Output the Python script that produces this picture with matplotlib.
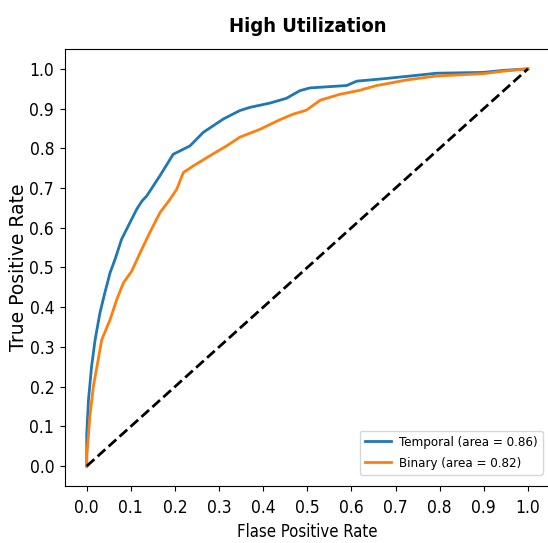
import matplotlib
matplotlib.use("Agg")
import matplotlib.pyplot as plt

# ROC points
temporal_fpr = [0.0, 0.0, 0.004, 0.011, 0.019, 0.030, 0.041, 0.053, 0.064, 0.079,
                0.098, 0.113, 0.125, 0.136, 0.166, 0.196, 0.234, 0.264, 0.310, 0.347,
                0.370, 0.416, 0.453, 0.483, 0.506, 0.589, 0.612, 0.672, 0.725, 0.793,
                0.899, 0.943, 1.0]
temporal_tpr = [0.0, 0.080, 0.167, 0.251, 0.318, 0.386, 0.436, 0.487, 0.520, 0.571,
                0.613, 0.646, 0.667, 0.680, 0.731, 0.785, 0.806, 0.840, 0.874, 0.895,
                0.903, 0.914, 0.926, 0.945, 0.952, 0.958, 0.969, 0.975, 0.981, 0.989,
                0.991, 0.996, 1.0]

binary_fpr = [0.0, 0.0, 0.007, 0.015, 0.026, 0.034, 0.053, 0.068, 0.083, 0.102,
              0.121, 0.143, 0.166, 0.189, 0.204, 0.219, 0.242, 0.279, 0.317, 0.347,
              0.393, 0.438, 0.468, 0.498, 0.529, 0.574, 0.619, 0.657, 0.687, 0.725,
              0.793, 0.899, 0.943, 1.0]
binary_tpr = [0.0, 0.023, 0.124, 0.200, 0.268, 0.318, 0.369, 0.419, 0.461, 0.491,
              0.537, 0.588, 0.638, 0.672, 0.697, 0.739, 0.756, 0.781, 0.806, 0.828,
              0.848, 0.872, 0.886, 0.896, 0.921, 0.936, 0.946, 0.958, 0.964, 0.972,
              0.982, 0.988, 0.994, 1.0]

temporal_auc = 0.86
binary_auc = 0.82
ticks = [i / 10 for i in range(11)]

COND = dict(family="DejaVu Sans", stretch="condensed")

fig = plt.figure(figsize=(5.48, 5.43), dpi=100)
ax = fig.add_axes([0.118, 0.105, 0.8856, 0.8048])

ax.plot(temporal_fpr, temporal_tpr, color="#1f77b4", lw=2,
        label=f"Temporal (area = {temporal_auc:.2f})")
ax.plot(binary_fpr, binary_tpr, color="#ff7f0e", lw=2,
        label=f"Binary (area = {binary_auc:.2f})")
ax.plot([0, 1], [0, 1], color="black", lw=2, linestyle="--")

ax.set_xlim(-0.05, 1.05)
ax.set_ylim(-0.05, 1.05)
ax.set_xticks(ticks)
ax.set_yticks(ticks)
ax.set_xticklabels([f"{t:.1f}" for t in ticks], fontsize=12.5, **COND)
ax.set_yticklabels([f"{t:.1f}" for t in ticks], fontsize=12.5, **COND)
ax.tick_params(axis="x", pad=6)
ax.tick_params(axis="y", pad=4)

ax.set_title("High Utilization", fontsize=14.5, fontweight="bold", pad=12, **COND)
ax.set_xlabel("Flase Positive Rate", fontsize=12, labelpad=4, **COND)
ax.set_ylabel("True Positive Rate", fontsize=13.5, family="DejaVu Sans", labelpad=1)

ax.legend(loc="lower right", bbox_to_anchor=(543 / 548, 68 / 543),
          bbox_transform=fig.transFigure, borderaxespad=0,
          handletextpad=0.6, labelspacing=0.6,
          prop=dict(size=9.5, **COND))

fig.savefig("out.png", dpi=100)
